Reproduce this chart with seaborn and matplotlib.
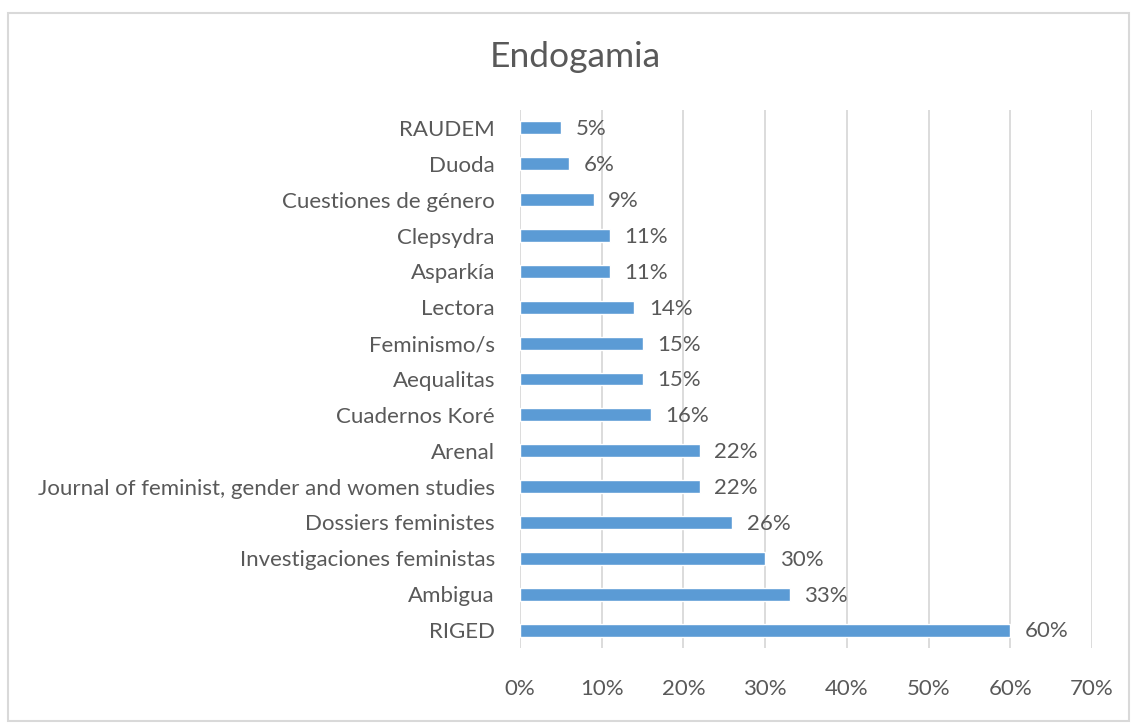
import matplotlib
matplotlib.use("Agg")
import matplotlib.pyplot as plt
import seaborn as sns
import pandas as pd
from matplotlib.patches import Rectangle
from matplotlib.ticker import MultipleLocator, FuncFormatter

journals = ["RAUDEM", "Duoda", "Cuestiones de género", "Clepsydra", "Asparkía",
            "Lectora", "Feminismo/s", "Aequalitas", "Cuadernos Koré", "Arenal",
            "Journal of feminist, gender and women studies", "Dossiers feministes",
            "Investigaciones feministas", "Ambigua", "RIGED"]
values = [5, 6, 9, 11, 11, 14, 15, 15, 16, 22, 22, 26, 30, 33, 60]
x_ticks = [0, 10, 20, 30, 40, 50, 60, 70]
title = "Endogamia"

TXT = "#595959"
BAR = "#5B9BD5"
GRID = "#D9D9D9"

sns.set_theme(style="white")
plt.rcParams['font.family'] = ['Lato', 'DejaVu Sans']

df = pd.DataFrame({"journal": journals, "value": values})

fig = plt.figure(figsize=(11.32, 7.24), dpi=100)
fig.patch.set_facecolor("white")
ax = fig.add_axes([520/1132, 1-648/724, (1092-520)/1132, (648-110)/724])

sns.barplot(data=df, x="value", y="journal", orient="h", color=BAR,
            saturation=1, width=0.36, ax=ax)

ax.set_xlim(x_ticks[0], x_ticks[-1])
ax.set_ylim(len(journals)-0.5, -0.5)
ax.set_xticks(x_ticks)
ax.xaxis.set_major_formatter(FuncFormatter(lambda v, p: f"{int(round(v))}%"))
ax.set_xlabel("")
ax.set_ylabel("")
for s in ax.spines.values():
    s.set_visible(False)
ax.grid(axis="x", color=GRID, linewidth=1.3)
ax.grid(axis="y", visible=False)
ax.set_axisbelow(True)
ax.tick_params(axis="both", length=0, colors=TXT, labelsize=16)
ax.tick_params(axis="y", pad=18)
ax.tick_params(axis="x", pad=22)

for i, v in enumerate(values):
    ax.annotate(f"{v}%", (v, i), xytext=(10.5, -1), textcoords="offset points",
                va="center", ha="left", fontsize=16, color=TXT)

fig.text(0.508, 1-57/724, title, ha="center", va="center", fontsize=25.5, color=TXT)

fig.patches.append(Rectangle((8/1132, 3/724), 1121/1132, 708/724,
                             transform=fig.transFigure, fill=False,
                             edgecolor=GRID, linewidth=1.5))

fig.savefig("out.png", dpi=100, facecolor="white")
